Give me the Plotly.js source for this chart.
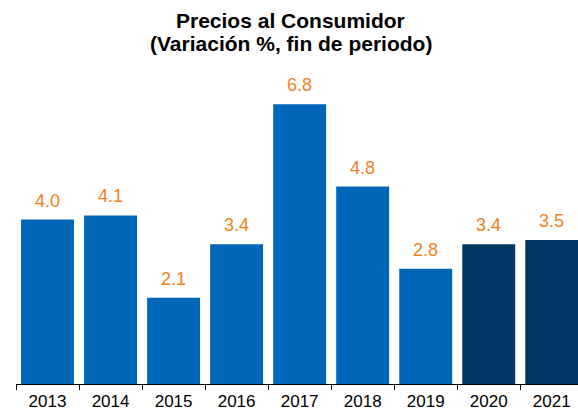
<!DOCTYPE html>
<html>
<head>
<meta charset="utf-8">
<script src="https://cdn.plot.ly/plotly-3.0.1.min.js"></script>
<style>
body{margin:0;padding:0;background:#fff;}
#chart{width:578px;height:415px;}
</style>
</head>
<body>
<div id="chart"></div>
<script>
// datos
var years=['2013','2014','2015','2016','2017','2018','2019','2020','2021'];
var values=[4.0,4.1,2.1,3.4,6.8,4.8,2.8,3.4,3.5];
var labels=['4.0','4.1','2.1','3.4','6.8','4.8','2.8','3.4','3.5'];
var colors=['#0066b8','#0066b8','#0066b8','#0066b8','#0066b8','#0066b8','#0066b8','#003764','#003764'];
var title_lines=['Precios al Consumidor','(Variación %, fin de periodo)'];

var font_name='Liberation Sans, Arial, sans-serif';

var bar_trace={
    x:years,
    y:values,
    type:'bar',
    marker:{color:colors},
    hoverinfo:'none'
};

var notes=[];
for (var i=0;i<years.length;i++){
    notes.push({
        x:i,
        y:values[i],
        xref:'x',
        yref:'y',
        text:labels[i],
        showarrow:false,
        yanchor:'bottom',
        yshift:7,
        font:{family:font_name,size:18,color:'#f0821e'}
    });
}
// titulo en dos lineas (una anotacion por linea)
var title_y=[1.106,1.036];
for (var j=0;j<title_lines.length;j++){
    notes.push({
        x:0.489,
        y:title_y[j],
        xref:'paper',
        yref:'paper',
        text:'<b>'+title_lines[j]+'</b>',
        showarrow:false,
        xanchor:'center',
        yanchor:'middle',
        font:{family:font_name,size:21,color:'#000'}
    });
}

var layout1={
    width:578,
    height:415,
    margin:{l:16,r:0,t:55,b:31},
    paper_bgcolor:'#fff',
    plot_bgcolor:'#fff',
    bargap:0.16,
    showlegend:false,
    xaxis:{
        type:'category',
        range:[-0.5,8.416],
        showline:true,
        linecolor:'#000',
        linewidth:1,
        ticks:'outside',
        tickson:'boundaries',
        ticklen:5,
        tickcolor:'#000',
        ticklabelstandoff:2,
        tickfont:{family:font_name,size:17,color:'#000'},
        fixedrange:true
    },
    yaxis:{
        range:[0,8],
        visible:false,
        showgrid:false,
        zeroline:false,
        fixedrange:true
    },
    annotations:notes
};

Plotly.newPlot('chart',[bar_trace],layout1,{displayModeBar:false,staticPlot:true});
</script>
</body>
</html>
